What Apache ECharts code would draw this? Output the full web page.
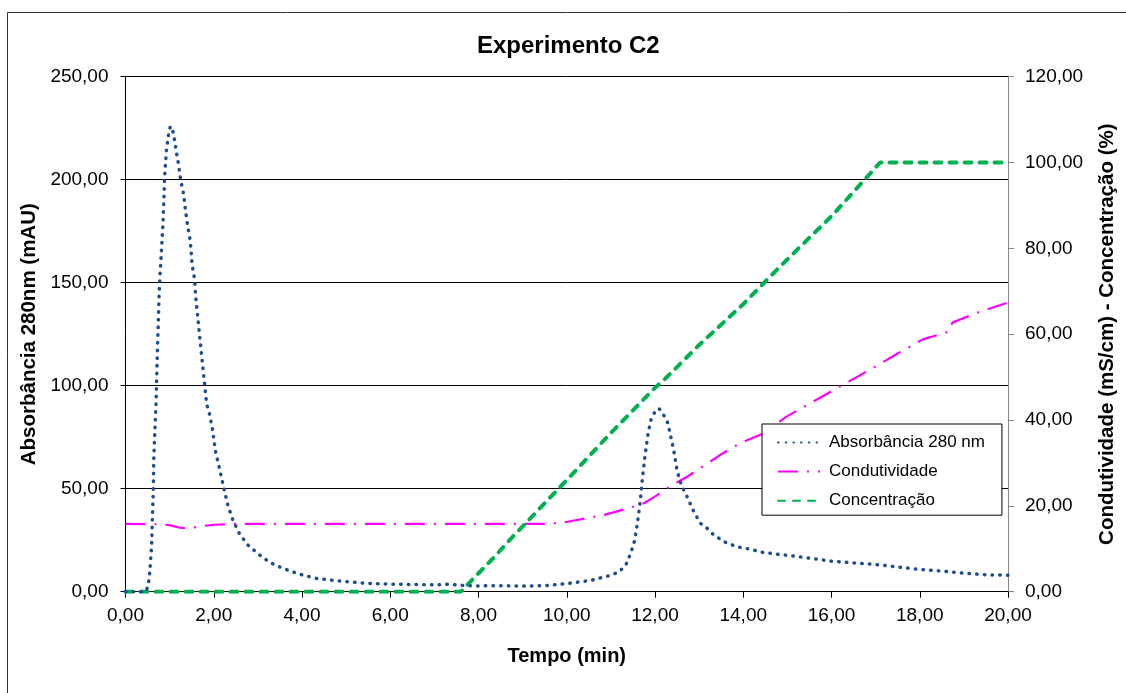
<!DOCTYPE html>
<html>
<head>
<meta charset="utf-8">
<script src="https://cdn.jsdelivr.net/npm/echarts@6/dist/echarts.min.js"></script>
<style>
  html, body { margin: 0; padding: 0; background: #fff; }
  #chart { width: 1126px; height: 693px; }
</style>
</head>
<body>
<div id="chart"></div>
<script>
// Absorbance at 280 nm (mAU), [time (min), value]
const absorbancia = [
  [0, 0], [0.45, 0], [0.51, 2.4], [0.55, 9.7], [0.59, 22], [0.61, 36], [0.63, 50],
  [0.64, 64], [0.665, 78], [0.69, 90], [0.72, 115], [0.76, 143], [0.785, 155],
  [0.816, 166], [0.845, 177], [0.868, 189], [0.884, 200], [0.906, 208], [0.93, 215],
  [0.958, 219], [0.98, 223], [1.02, 226], [1.09, 222.5], [1.14, 215], [1.2, 207.6],
  [1.25, 200], [1.32, 192.6], [1.36, 185], [1.41, 177.5], [1.47, 170], [1.51, 158.6],
  [1.57, 151], [1.59, 143.5], [1.7, 120], [1.84, 91], [1.9, 86.6], [1.97, 79],
  [2.04, 68], [2.12, 60.7], [2.23, 50], [2.32, 42], [2.43, 35], [2.58, 28.3],
  [2.77, 22.7], [3.02, 18.2], [3.26, 14.3], [3.56, 11.4], [3.93, 8.6], [4.31, 6.5],
  [4.84, 5.2], [5.44, 4.1], [6.04, 3.6], [6.6, 3.5], [7.0, 3.3], [7.3, 3.6],
  [7.6, 3.1], [8.0, 2.8], [8.5, 2.9], [9.0, 2.7], [9.57, 3.0], [10.02, 4],
  [10.55, 5.5], [11.0, 8], [11.19, 9.7], [11.34, 13], [11.45, 18.6], [11.54, 25],
  [11.6, 33], [11.66, 43], [11.71, 54], [11.77, 65.5], [11.83, 75], [11.9, 83],
  [11.99, 87], [12.09, 89], [12.19, 86], [12.28, 82.5], [12.35, 76], [12.43, 68],
  [12.49, 60], [12.56, 54], [12.65, 49.4], [12.73, 46], [12.8, 42.6], [12.88, 38.8],
  [13.03, 33.2], [13.18, 30.8], [13.31, 28], [13.56, 24.3], [13.86, 21.8],
  [14.16, 20.6], [14.46, 19], [14.83, 18.1], [15.13, 17.3], [15.5, 16.3], [16, 14.8],
  [16.5, 14], [17, 13.2], [17.5, 12], [18, 10.8], [18.5, 10], [19, 9], [19.5, 8.2],
  [20, 8]
];

// Conductivity (mS/cm), [time (min), value]
const condutividade = [
  [0, 15.8], [0.8, 15.7], [1.0, 15.5], [1.23, 14.9], [1.45, 14.8], [1.75, 15.3],
  [2.0, 15.6], [2.5, 15.8], [4, 15.8], [6, 15.8], [8, 15.8], [9.57, 15.8],
  [10.02, 16.3], [10.85, 17.9], [11.38, 19.4], [11.75, 20.6], [12.05, 22.5],
  [12.35, 24.6], [12.73, 26.8], [13.03, 28.8], [13.48, 31.9], [13.93, 34.6],
  [14.46, 36.9], [14.98, 40.8], [15.5, 43.8], [16, 46.7], [16.5, 49.6], [17, 52.5],
  [17.5, 55.5], [18.07, 58.8], [18.66, 60.6], [18.7, 61.8], [18.74, 62.7],
  [19.27, 64.9], [20, 67.4]
];

// Gradient concentration (%), [time (min), value]
const concentracao = [
  [0, 0], [7.6, 0], [8.0, 4.3], [8.37, 8.2], [8.71, 12.1], [9.0, 15.2], [9.57, 21.4],
  [10, 26], [11, 37], [12, 47.5], [12.2, 49.3], [13, 57.5], [14, 67], [14.76, 75],
  [15.5, 82.5], [16, 87.5], [16.75, 96], [17.1, 100], [20, 100]
];

const xTicks = [0, 2, 4, 6, 8, 10, 12, 14, 16, 18, 20];
const seriesNames = ['Absorbância 280 nm', 'Condutividade', 'Concentração'];

const fmt = v => v.toFixed(2).replace('.', ',');
const FONT = 'Liberation Sans, Arial, sans-serif';

const chart = echarts.init(document.getElementById('chart'), null, { renderer: 'canvas' });

chart.setOption({
  animation: false,
  backgroundColor: '#fff',
  title: {
    text: 'Experimento C2',
    left: 477,
    top: 34,
    padding: 0,
    textStyle: { fontFamily: FONT, fontSize: 24, fontWeight: 'bold', color: '#000' }
  },
  grid: { left: 125.5, right: 113.5, top: 76.7, bottom: 101.3, containLabel: false },
  legend: {
    orient: 'vertical',
    left: 762,
    top: 424,
    padding: [10, 17, 6, 15],
    itemGap: 12.1,
    itemWidth: 42,
    itemHeight: 16,
    backgroundColor: '#fff',
    borderColor: '#000',
    borderWidth: 1,
    borderRadius: 0,
    data: seriesNames,
    itemStyle: { color: 'rgba(0,0,0,0)', opacity: 0, borderWidth: 0 },
    textStyle: { fontFamily: FONT, fontSize: 17, color: '#000', lineHeight: 16, padding: [0, 0, 0, 4] }
  },
  xAxis: {
    type: 'value',
    min: xTicks[0],
    max: xTicks[xTicks.length - 1],
    interval: 2,
    name: 'Tempo (min)',
    nameLocation: 'middle',
    nameGap: 55,
    nameTextStyle: { fontFamily: FONT, fontSize: 20, fontWeight: 'bold', color: '#000' },
    axisLine: { show: true, lineStyle: { color: '#000', width: 1 } },
    axisTick: { show: true, inside: false, length: 6, lineStyle: { color: '#000' } },
    axisLabel: { formatter: fmt, margin: 15, fontFamily: FONT, fontSize: 19, color: '#000' },
    splitLine: { show: false }
  },
  yAxis: [
    {
      type: 'value',
      min: 0, max: 250, interval: 50,
      name: 'Absorbância 280nm (mAU)',
      nameLocation: 'middle',
      nameGap: 86,
      nameTextStyle: { fontFamily: FONT, fontSize: 20.5, fontWeight: 'bold', color: '#000' },
      axisLine: { show: true, lineStyle: { color: '#000', width: 1 } },
      axisTick: { show: true, inside: false, length: 5, lineStyle: { color: '#000' } },
      axisLabel: { formatter: fmt, margin: 17, fontFamily: FONT, fontSize: 19, color: '#000' },
      splitLine: { show: true, lineStyle: { color: '#000', width: 1 } }
    },
    {
      type: 'value',
      min: 0, max: 120, interval: 20,
      position: 'right',
      name: 'Condutividade (mS/cm) - Concentração (%)',
      nameLocation: 'middle',
      nameGap: 89,
      nameTextStyle: { fontFamily: FONT, fontSize: 20.5, fontWeight: 'bold', color: '#000' },
      axisLine: { show: true, lineStyle: { color: '#868686', width: 1 } },
      axisTick: { show: true, inside: false, length: 6, lineStyle: { color: '#868686' } },
      axisLabel: { formatter: fmt, margin: 17, fontFamily: FONT, fontSize: 19, color: '#000' },
      splitLine: { show: false }
    }
  ],
  series: [
    {
      name: seriesNames[0],
      type: 'line',
      yAxisIndex: 0,
      data: absorbancia,
      showSymbol: false,
      symbol: 'none',
      z: 4,
      color: '#1F4E8C',
      lineStyle: { color: '#1F4E8C', width: 3.5, type: [0.5, 7.2], cap: 'round' }
    },
    {
      name: seriesNames[1],
      type: 'line',
      yAxisIndex: 1,
      data: condutividade,
      showSymbol: false,
      symbol: 'none',
      z: 3,
      color: '#FF00FF',
      lineStyle: { color: '#FF00FF', width: 2.2, type: [20, 9, 2, 9] }
    },
    {
      name: seriesNames[2],
      type: 'line',
      yAxisIndex: 1,
      data: concentracao,
      showSymbol: false,
      symbol: 'none',
      z: 3,
      color: '#00B050',
      lineStyle: { color: '#00B050', width: 4, type: [7, 8], cap: 'round' }
    }
  ],
  graphic: [
    {
      type: 'rect',
      silent: true,
      z: -10,
      shape: { x: 7.5, y: 12.5, width: 1200, height: 800 },
      style: { fill: 'none', stroke: '#333', lineWidth: 1 }
    }
  ]
});
</script>
</body>
</html>
